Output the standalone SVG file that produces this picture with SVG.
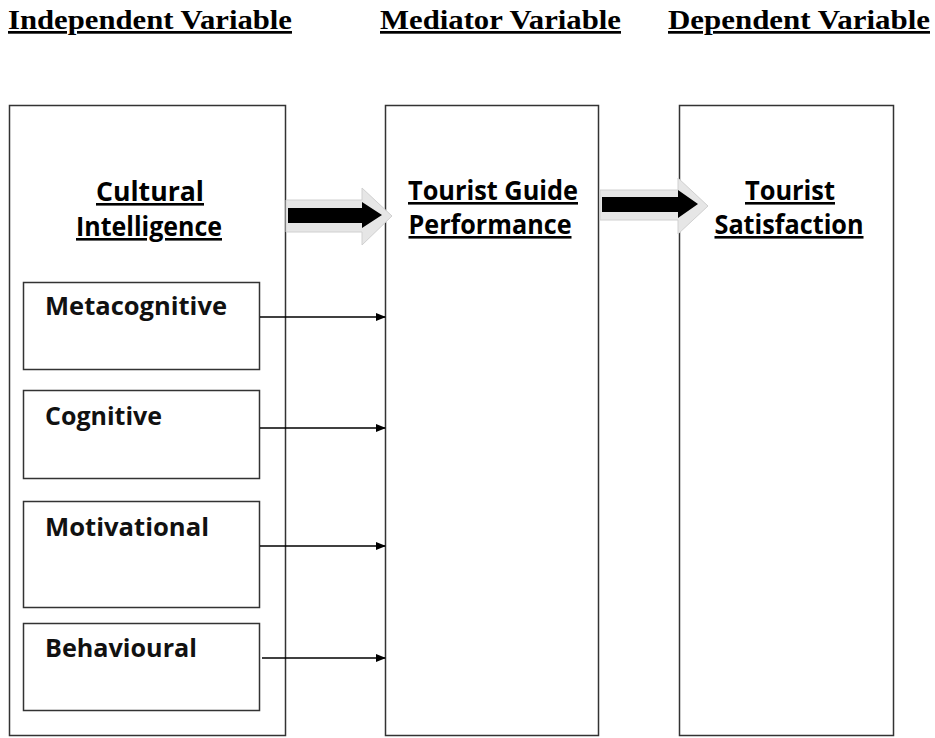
<svg xmlns="http://www.w3.org/2000/svg" width="935" height="738" viewBox="0 0 935 738">
<defs>
<style>
.hdr{font-family:"Liberation Serif","Times New Roman",serif;font-weight:bold;font-size:27px;fill:#000;text-decoration:underline}
.box{fill:#fff;stroke:#333;stroke-width:1.5}
.lbl{font-family:"Open Sans","Liberation Sans",sans-serif;font-weight:bold;font-size:26px;fill:#000;text-anchor:middle;text-decoration:underline}
.sub{font-family:"Open Sans","Liberation Sans",sans-serif;font-weight:bold;font-size:25px;fill:#111}
.con{stroke:#000;stroke-width:1.3;fill:none;marker-end:url(#ah)}
.shadow{fill:#e6e6e6;stroke:#d0d0d0;stroke-width:1}
</style>
<marker id="ah" markerWidth="10" markerHeight="8" refX="9" refY="4" orient="auto" markerUnits="userSpaceOnUse">
<path d="M0,0 L10,4 L0,8 z" fill="#000"/>
</marker>
</defs>
<rect width="935" height="738" fill="#fff"/>
<g id="headers">
<text class="hdr" x="8" y="29" textLength="284" lengthAdjust="spacingAndGlyphs">Independent Variable</text>
<text class="hdr" x="380" y="29" textLength="241" lengthAdjust="spacingAndGlyphs">Mediator Variable</text>
<text class="hdr" x="668" y="29" textLength="262" lengthAdjust="spacingAndGlyphs">Dependent Variable</text>
</g>
<g id="independent">
<rect class="box" x="9.5" y="105.5" width="276" height="630"/>
<text class="lbl" x="150" y="201" textLength="108" lengthAdjust="spacingAndGlyphs">Cultural</text>
<text class="lbl" x="149" y="236" textLength="146" lengthAdjust="spacingAndGlyphs">Intelligence</text>
</g>
<g id="metacognitive">
<rect class="box" x="23.5" y="282.5" width="236" height="87"/>
<text class="sub" x="45" y="315" textLength="182" lengthAdjust="spacingAndGlyphs">Metacognitive</text>
</g>
<g id="cognitive">
<rect class="box" x="23.5" y="390.5" width="236" height="88"/>
<text class="sub" x="45" y="425" textLength="117" lengthAdjust="spacingAndGlyphs">Cognitive</text>
</g>
<g id="motivational">
<rect class="box" x="23.5" y="501.5" width="236" height="106"/>
<text class="sub" x="45" y="536" textLength="164" lengthAdjust="spacingAndGlyphs">Motivational</text>
</g>
<g id="behavioural">
<rect class="box" x="23.5" y="623.5" width="236" height="87"/>
<text class="sub" x="45" y="657" textLength="152" lengthAdjust="spacingAndGlyphs">Behavioural</text>
</g>
<g id="mediator">
<rect class="box" x="385.5" y="105.5" width="213" height="630"/>
<text class="lbl" x="493" y="200" textLength="170" lengthAdjust="spacingAndGlyphs">Tourist Guide</text>
<text class="lbl" x="490" y="234" textLength="163" lengthAdjust="spacingAndGlyphs">Performance</text>
</g>
<g id="dependent">
<rect class="box" x="679.5" y="105.5" width="214" height="630"/>
<text class="lbl" x="790" y="200" textLength="90" lengthAdjust="spacingAndGlyphs">Tourist</text>
<text class="lbl" x="789" y="234" textLength="149" lengthAdjust="spacingAndGlyphs">Satisfaction</text>
</g>
<g id="connectors">
<path class="shadow" d="M286,200 L362,200 L362,188 L392,216 L362,245 L362,232 L286,232 z"/>
<path d="M288,208 L362,208 L362,202 L382,215 L362,228 L362,223 L288,223 z" fill="#000"/>
<path class="shadow" d="M600,190 L678,190 L678,178 L708,206 L678,234 L678,220 L600,220 z"/>
<path d="M602,197 L678,197 L678,190 L698,204 L678,218 L678,212 L602,212 z" fill="#000"/>
<line class="con" x1="260" y1="317" x2="385" y2="317"/>
<line class="con" x1="260" y1="428" x2="385" y2="428"/>
<line class="con" x1="260" y1="546" x2="385" y2="546"/>
<line class="con" x1="262" y1="658" x2="385" y2="658"/>
</g>
</svg>
